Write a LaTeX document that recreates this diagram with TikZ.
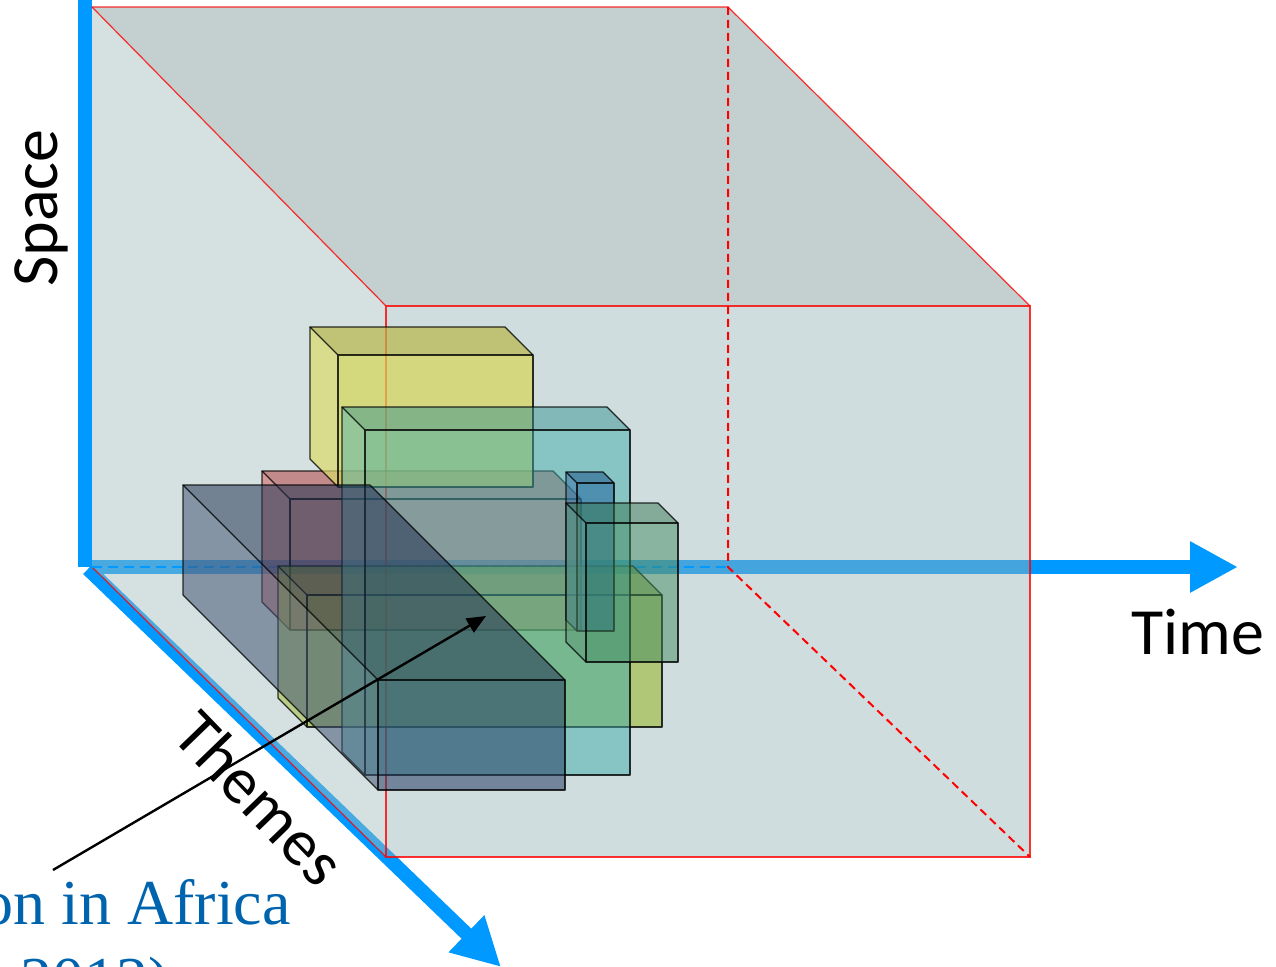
\documentclass[tikz,border=0pt]{standalone}
\usepackage{fontspec}
\usetikzlibrary{arrows.meta}
\newfontfamily\calibfont{Carlito}
\newfontfamily\serifblue{Liberation Serif}
\definecolor{axisblue}{HTML}{0099FF}
\definecolor{cubefront}{HTML}{97B4B8}
\definecolor{cubeleft}{HTML}{A2BDBD}
\definecolor{cubetop}{HTML}{7C9794}
\definecolor{txtblue}{HTML}{0063AE}
\definecolor{bxyellow}{HTML}{D6D554}
\definecolor{bxred}{HTML}{CD3C3C}
\definecolor{bxolive}{HTML}{96B523}
\definecolor{bxcyan}{HTML}{40ABAA}
\definecolor{bxblue}{HTML}{185B9B}
\definecolor{bxgreen}{HTML}{448B60}
\definecolor{bxdark}{HTML}{273E62}
\tikzset{
  axisarrow/.style={draw=axisblue, line width=7pt, -{Triangle[length=24pt,width=24pt]}},
  axisplain/.style={draw=axisblue, line width=7pt},
  cubeface/.style={fill opacity=0.45, draw=none},
  rededge/.style={draw=red, line width=0.6pt, draw opacity=0.8},
  reddash/.style={draw=red, line width=1pt, dash pattern=on 4pt off 2.5pt},
  bluedash/.style={draw=axisblue, line width=1pt, dash pattern=on 5pt off 3pt},
  bxedge/.style={draw=black, draw opacity=0.8, line width=0.7pt, line join=round},
  lbl/.style={font=\calibfont\fontsize{33}{40}\selectfont, text=black, inner sep=0pt},
  srctext/.style={font=\serifblue\fontsize{32}{38}\selectfont, text=txtblue, inner sep=0pt},
  pointer/.style={draw=black, line width=1.2pt, -{Triangle[length=9.5pt,width=8pt]}}
}
\newcommand\cuboidbox[7]{%
  \fill[#6!86!black, fill opacity=#7] (#1-#5,#2-#5) -- (#3-#5,#2-#5) -- (#3,#2) -- (#1,#2) -- cycle;
  \fill[#6!88!white, fill opacity=#7] (#1-#5,#2-#5) -- (#1,#2) -- (#1,#4) -- (#1-#5,#4-#5) -- cycle;
  \fill[#6, fill opacity=#7] (#1,#2) rectangle (#3,#4);
  \draw[bxedge] (#1,#2) rectangle (#3,#4);
  \draw[bxedge] (#1,#2) -- (#1-#5,#2-#5) -- (#3-#5,#2-#5) -- (#3,#2);
  \draw[bxedge] (#1-#5,#2-#5) -- (#1-#5,#4-#5) -- (#1,#4);
}
\begin{document}
\begin{tikzpicture}[x=0.5pt,y=-0.5pt]
\useasboundingbox (0,0) rectangle (1276,967);
\clip (0,0) rectangle (1276,967);
% axes
\coordinate (vbot) at (85,567);
\coordinate (vtop) at (85,-20);
\coordinate (hstart) at (92,567);
\coordinate (timetip) at (1238,567);
\coordinate (dstart) at (88,569);
\coordinate (themetip) at (501,967);
\draw[axisplain] (vbot) -- (vtop);
\draw[axisarrow] (hstart) -- (timetip);
\draw[axisarrow] (dstart) -- (themetip);
% cube
\coordinate (BTL) at (92,7);
\coordinate (BTR) at (728,7);
\coordinate (FTL) at (386,306);
\coordinate (FTR) at (1030,306);
\coordinate (FBL) at (386,857);
\coordinate (FBR) at (1030,857);
\coordinate (BBL) at (92,567);
\coordinate (BBR) at (728,567);
\fill[cubeface, fill=cubetop] (BTL) -- (BTR) -- (FTR) -- (FTL) -- cycle;
\fill[cubeface, fill=cubeleft] (BTL) -- (FTL) -- (FBL) -- (BBL) -- cycle;
\fill[cubeface, fill=cubefront] (FTL) rectangle (FBR);
\draw[rededge] (BTL) -- (BTR) -- (FTR);
\draw[rededge] (BTL) -- (FTL);
\draw[rededge] (FTL) rectangle (FBR);
\draw[rededge] (BBL) -- (FBL);
\draw[reddash] (BTR) -- (BBR) -- (FBR);
\draw[bluedash] (BBL) -- (BBR);
% boxes
\cuboidbox{290}{499}{581}{630}{28}{bxred}{0.5}
\cuboidbox{338}{355}{533}{487}{28}{bxyellow}{0.7}
\cuboidbox{307}{595}{662}{727}{29}{bxolive}{0.55}
\cuboidbox{365}{430}{630}{775}{23}{bxcyan}{0.5}
\cuboidbox{577}{483}{614}{631}{11}{bxblue}{0.5}
\cuboidbox{586}{523}{678}{662}{20}{bxgreen}{0.5}
\cuboidbox{378}{680}{565}{790}{195}{bxdark}{0.55}
% labels
\node[lbl, rotate=90, anchor=base] (space) at (57,208) {Space};
\node[lbl, anchor=base] (time) at (1198,655) {Time};
\node[lbl, rotate=-46, anchor=center] (themes) at (260,798) {Themes};
\node[srctext, anchor=base west] (srcA) at (-19,925) {on in Africa};
\node[srctext, anchor=base west] (srcB) at (20,1001) {2012)};
\coordinate (pstart) at (53,870);
\coordinate (ptip) at (486,616);
\draw[pointer] (pstart) -- (ptip);
\end{tikzpicture}
\end{document}
